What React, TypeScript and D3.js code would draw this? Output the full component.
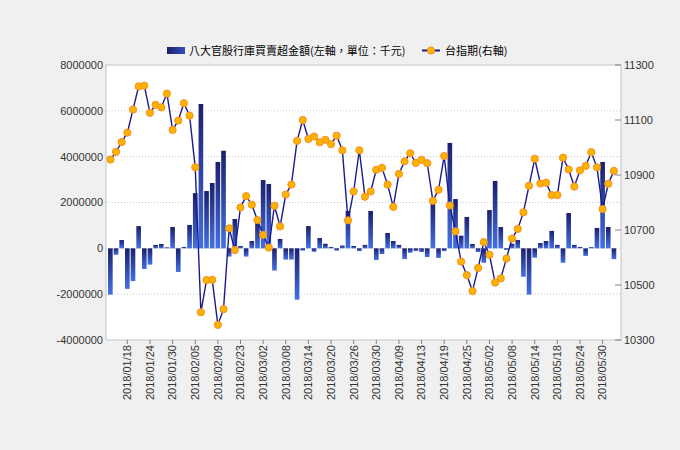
import React from 'react';
import * as d3 from 'd3';

// trading days (2018)
const dates: string[] = [
  '2018/01/15', '2018/01/16', '2018/01/17', '2018/01/18', '2018/01/19', '2018/01/22', '2018/01/23', '2018/01/24',
  '2018/01/25', '2018/01/26', '2018/01/29', '2018/01/30', '2018/01/31', '2018/02/01', '2018/02/02', '2018/02/05',
  '2018/02/06', '2018/02/07', '2018/02/08', '2018/02/09', '2018/02/12', '2018/02/21', '2018/02/22', '2018/02/23',
  '2018/02/26', '2018/02/27', '2018/03/01', '2018/03/02', '2018/03/05', '2018/03/06', '2018/03/07', '2018/03/08',
  '2018/03/09', '2018/03/12', '2018/03/13', '2018/03/14', '2018/03/15', '2018/03/16', '2018/03/19', '2018/03/20',
  '2018/03/21', '2018/03/22', '2018/03/23', '2018/03/26', '2018/03/27', '2018/03/28', '2018/03/29', '2018/03/30',
  '2018/03/31', '2018/04/02', '2018/04/03', '2018/04/09', '2018/04/10', '2018/04/11', '2018/04/12', '2018/04/13',
  '2018/04/16', '2018/04/17', '2018/04/18', '2018/04/19', '2018/04/20', '2018/04/23', '2018/04/24', '2018/04/25',
  '2018/04/26', '2018/04/27', '2018/04/30', '2018/05/02', '2018/05/03', '2018/05/04', '2018/05/07', '2018/05/08',
  '2018/05/09', '2018/05/10', '2018/05/11', '2018/05/14', '2018/05/15', '2018/05/16', '2018/05/17', '2018/05/18',
  '2018/05/21', '2018/05/22', '2018/05/23', '2018/05/24', '2018/05/25', '2018/05/28', '2018/05/29', '2018/05/30',
  '2018/05/31', '2018/06/01',
];

// 八大官股行庫買賣超金額 (千元)
const netBuy: number[] = [
  -2020000, -280000, 360000, -1770000, -1430000, 970000, -900000, -710000, 150000, 190000,
  40000, 930000, -1030000, 60000, 1020000, 2410000, 6300000, 2500000, 2850000, 3770000,
  4260000, -360000, 1280000, 100000, -360000, 320000, 1120000, 2980000, 2810000, -970000,
  410000, -490000, -490000, -2240000, -100000, 970000, -150000, 450000, 200000, 60000,
  -100000, 120000, 1630000, 100000, -120000, 150000, 1630000, -510000, -250000, 670000,
  320000, 150000, -470000, -190000, -120000, -160000, -380000, 1990000, -420000, -120000,
  4600000, 2150000, 550000, 1370000, 190000, -160000, -630000, 1670000, 2940000, 930000,
  -70000, 200000, 360000, -1240000, -2020000, -410000, 230000, 320000, 760000, 150000,
  -630000, 1540000, 150000, 60000, -330000, 50000, 890000, 3770000, 930000, -470000,
];

// 台指期
const futures: number[] = [
  10956, 10984, 11020, 11054, 11138, 11222, 11225, 11126, 11155, 11146,
  11196, 11064, 11098, 11161, 11116, 10928, 10401, 10518, 10519, 10355,
  10412, 10706, 10627, 10782, 10823, 10792, 10736, 10682, 10636, 10788,
  10713, 10829, 10865, 11024, 11100, 11031, 11040, 11019, 11028, 11012,
  11043, 10990, 10735, 10840, 10990, 10821, 10840, 10919, 10926, 10865,
  10784, 10904, 10950, 10979, 10944, 10955, 10943, 10806, 10846, 10969,
  10789, 10695, 10585, 10536, 10478, 10562, 10656, 10610, 10509, 10524,
  10596, 10669, 10704, 10764, 10861, 10959, 10869, 10872, 10827, 10827,
  10963, 10920, 10858, 10917, 10933, 10983, 10928, 10776, 10868, 10915,
];

const leftTicks: number[] = [-4000000, -2000000, 0, 2000000, 4000000, 6000000, 8000000];
const rightTicks: number[] = [10300, 10500, 10700, 10900, 11100, 11300];

const W = 680;
const H = 450;
const plot = { left: 106, right: 621, top: 65, bottom: 340 };
const numFont = '"Liberation Sans", Arial, sans-serif';
const cjkFont = '"Noto Sans CJK TC", "Liberation Sans", sans-serif';

const App: React.FC = () => {
  const x = d3.scaleBand<string>()
    .domain(dates)
    .range([plot.left, plot.right])
    .paddingInner(0.18)
    .paddingOuter(0.6)
    .align(0.3);
  const yL = d3.scaleLinear().domain([-4000000, 8000000]).range([plot.bottom, plot.top]);
  const yR = d3.scaleLinear().domain([10300, 11300]).range([plot.bottom, plot.top]);
  const cx = (d: string) => (x(d) ?? 0) + x.bandwidth() / 2;

  const line = d3.line<number>()
    .x((_, i) => cx(dates[i]))
    .y(v => yR(v));

  return (
    <svg width={W} height={H} style={{ position: 'absolute', left: 0, top: 0, background: '#f0f0f0' }}>
      <defs>
        <linearGradient id="barGrad" x1="0" y1="0" x2="0" y2="1">
          <stop offset="0%" stopColor="#1b1f6b" />
          <stop offset="100%" stopColor="#4470e6" />
        </linearGradient>
        <linearGradient id="legGrad" x1="0" y1="0" x2="1" y2="0">
          <stop offset="0%" stopColor="#1b1f6b" />
          <stop offset="100%" stopColor="#3550c0" />
        </linearGradient>
      </defs>
      <rect x={0} y={0} width={W} height={H} fill="#f0f0f0" />
      <rect x={plot.left} y={plot.top} width={plot.right - plot.left} height={plot.bottom - plot.top} fill="#fff" />

      {/* grid */}
      {leftTicks.filter(t => t > -4000000 && t < 8000000).map(t => (
        <line key={`g${t}`} x1={plot.left} x2={plot.right} y1={yL(t)} y2={yL(t)}
          stroke="#c8c8c8" strokeDasharray="1,2" />
      ))}

      {/* bars */}
      {netBuy.map((v, i) => (
        <rect key={`b${i}`} x={x(dates[i])} width={x.bandwidth()}
          y={Math.min(yL(v), yL(0))} height={Math.abs(yL(v) - yL(0))}
          fill="url(#barGrad)" />
      ))}

      {/* futures line */}
      <path d={line(futures) ?? ''} fill="none" stroke="#1a1a8a" strokeWidth={1.4} />
      {futures.map((v, i) => (
        <circle key={`p${i}`} cx={cx(dates[i])} cy={yR(v)} r={3.6}
          fill="#f7b500" stroke="#ff8a1e" strokeWidth={1} />
      ))}

      {/* frame */}
      <rect x={plot.left} y={plot.top} width={plot.right - plot.left} height={plot.bottom - plot.top}
        fill="none" stroke="#c4c4c4" />

      {/* left axis */}
      {leftTicks.map(t => (
        <text key={`l${t}`} x={plot.left - 3} y={yL(t)} dy="0.35em" textAnchor="end"
          fontFamily={numFont} fontSize={11} fill="#333">{t}</text>
      ))}

      {/* right axis */}
      {rightTicks.map(t => (
        <g key={`r${t}`}>
          <line x1={plot.right - 6} x2={plot.right} y1={yR(t)} y2={yR(t)} stroke="#808080" />
          <text x={plot.right + 3} y={yR(t)} dy="0.35em" textAnchor="start"
            fontFamily={numFont} fontSize={11} fill="#333">{t}</text>
        </g>
      ))}

      {/* x axis */}
      {dates.map((d, i) => i % 4 === 3 ? (
        <g key={`x${d}`} transform={`translate(${cx(d)},${plot.bottom})`}>
          <line y1={0} y2={4} stroke="#808080" />
          <text transform="translate(0,5) rotate(-90)" dy="0.35em" textAnchor="end"
            fontFamily={numFont} fontSize={11} fill="#333">{d}</text>
        </g>
      ) : null)}

      {/* legend */}
      <rect x={167} y={47} width={18} height={7} fill="url(#legGrad)" />
      <text x={189} y={54.5} fontFamily={cjkFont} fontSize={11} fill="#000">八大官股行庫買賣超金額(左軸，單位：千元)</text>
      <line x1={422} x2={440} y1={50.5} y2={50.5} stroke="#1a1a8a" strokeWidth={2} />
      <circle cx={431} cy={50.5} r={3.6} fill="#f7b500" stroke="#ff8a1e" strokeWidth={1} />
      <text x={445} y={54.5} fontFamily={cjkFont} fontSize={11} fill="#000">台指期(右軸)</text>
    </svg>
  );
};

export default App;
